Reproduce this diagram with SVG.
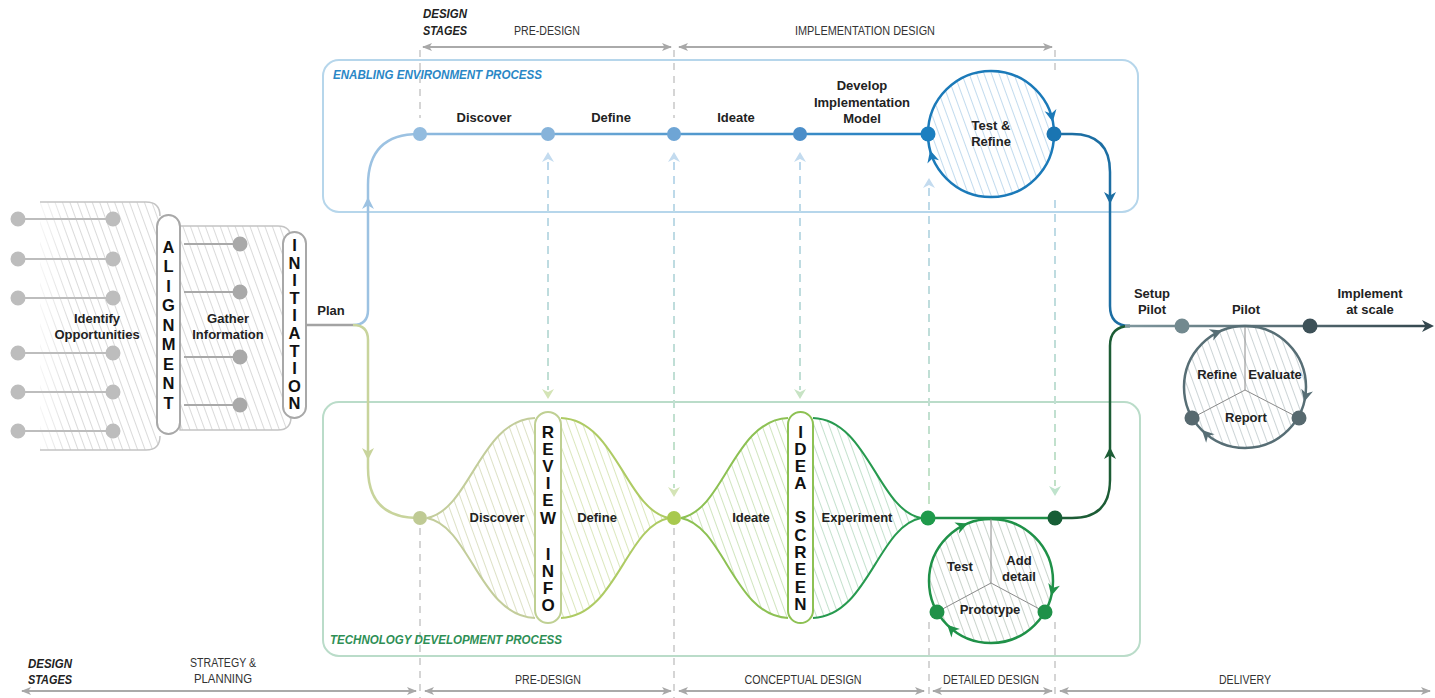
<svg xmlns="http://www.w3.org/2000/svg" width="1435" height="698" viewBox="0 0 1435 698">
<style>
.lbl{font-family:"Liberation Sans",Arial,sans-serif;font-weight:bold;font-size:13px;fill:#222;text-anchor:middle}
.big{font-family:"Liberation Sans",Arial,sans-serif;font-weight:bold;font-size:17px;fill:#111;text-anchor:middle}
.let{font-family:"Liberation Sans",Arial,sans-serif;font-weight:bold;font-size:16.5px;fill:#111;text-anchor:middle}
.stg{font-family:"Liberation Sans",Arial,sans-serif;font-size:12px;fill:#333;text-anchor:middle}
.ds{font-family:"Liberation Sans",Arial,sans-serif;font-size:13px;font-weight:bold;font-style:italic;fill:#222}
.proc{font-family:"Liberation Sans",Arial,sans-serif;font-size:12px;font-weight:bold;font-style:italic}
.sep{stroke:#c8c8c8;stroke-width:1.5;stroke-dasharray:7 6;fill:none}
.sarr{stroke:#aaa;stroke-width:1.8;fill:none;marker-start:url(#sa);marker-end:url(#sa)}
.dash{stroke:url(#dg);stroke-width:2;stroke-dasharray:8 6;fill:none}
.flow{fill:none;stroke-width:2.5}
.pill{fill:#fff;stroke-width:2}
.spoke{stroke:#8a8a8a;stroke-width:1;fill:none}
</style>
<defs>
<marker id="sa" viewBox="0 0 10 10" refX="9" refY="5" markerWidth="10" markerHeight="10" markerUnits="userSpaceOnUse" orient="auto-start-reverse"><path d="M0,1 L10,5 L0,9 L2.5,5z" fill="#a8a8a8"/></marker>
<path id="ah" d="M0,0 L-12,-6 L-8.5,0 L-12,6 Z"/>
<path id="dh" d="M0,0 L-10,-6 L-7,0 L-10,6 Z"/>
<pattern id="hGray" width="7" height="7" patternUnits="userSpaceOnUse" patternTransform="rotate(-20)"><line x1="3.5" y1="0" x2="3.5" y2="7" stroke="#dadada" stroke-width="1"/></pattern>
<pattern id="hOl" width="7" height="7" patternUnits="userSpaceOnUse" patternTransform="rotate(-20)"><line x1="3.5" y1="0" x2="3.5" y2="7" stroke="#dde1c6" stroke-width="1"/></pattern>
<pattern id="hYg" width="7" height="7" patternUnits="userSpaceOnUse" patternTransform="rotate(-20)"><line x1="3.5" y1="0" x2="3.5" y2="7" stroke="#dbe7bd" stroke-width="1"/></pattern>
<pattern id="hLg" width="7" height="7" patternUnits="userSpaceOnUse" patternTransform="rotate(-20)"><line x1="3.5" y1="0" x2="3.5" y2="7" stroke="#d0e5bf" stroke-width="1"/></pattern>
<pattern id="hGr" width="7" height="7" patternUnits="userSpaceOnUse" patternTransform="rotate(-20)"><line x1="3.5" y1="0" x2="3.5" y2="7" stroke="#c4e1cd" stroke-width="1"/></pattern>
<pattern id="hGc" width="7" height="7" patternUnits="userSpaceOnUse" patternTransform="rotate(-20)"><line x1="3.5" y1="0" x2="3.5" y2="7" stroke="#cad4cc" stroke-width="1"/></pattern>
<pattern id="hBl" width="7" height="7" patternUnits="userSpaceOnUse" patternTransform="rotate(-20)"><line x1="3.5" y1="0" x2="3.5" y2="7" stroke="#c2dbee" stroke-width="1"/></pattern>
<pattern id="hTl" width="7" height="7" patternUnits="userSpaceOnUse" patternTransform="rotate(-20)"><line x1="3.5" y1="0" x2="3.5" y2="7" stroke="#ccd4d6" stroke-width="1"/></pattern>
<linearGradient id="dg" gradientUnits="userSpaceOnUse" x1="0" y1="150" x2="0" y2="500"><stop offset="0" stop-color="#bcd8ee"/><stop offset="1" stop-color="#c2e2c6"/></linearGradient>
<linearGradient id="tg" gradientUnits="userSpaceOnUse" x1="420" y1="0" x2="928" y2="0"><stop offset="0" stop-color="#8fbadf"/><stop offset="1" stop-color="#1f7dbf"/></linearGradient>
<linearGradient id="pg" gradientUnits="userSpaceOnUse" x1="1125" y1="0" x2="1430" y2="0"><stop offset="0" stop-color="#7e969d"/><stop offset="1" stop-color="#34474e"/></linearGradient>
<linearGradient id="fade" x1="0" y1="0" x2="1" y2="0"><stop offset="0" stop-color="#fff" stop-opacity="1"/><stop offset="1" stop-color="#fff" stop-opacity="0"/></linearGradient>
</defs>
<rect width="1435" height="698" fill="#fff"/>

<!-- stage headers -->
<g id="stages">
<text class="ds" x="423" y="18" textLength="44" lengthAdjust="spacingAndGlyphs">DESIGN</text>
<text class="ds" x="423" y="35" textLength="44" lengthAdjust="spacingAndGlyphs">STAGES</text>
<text class="stg" x="547" y="35" textLength="66" lengthAdjust="spacingAndGlyphs">PRE-DESIGN</text>
<text class="stg" x="865" y="35" textLength="140" lengthAdjust="spacingAndGlyphs">IMPLEMENTATION DESIGN</text>
<line class="sarr" x1="423" y1="47" x2="671" y2="47"/>
<line class="sarr" x1="679" y1="47" x2="1052" y2="47"/>
<text class="ds" x="28" y="668" textLength="44" lengthAdjust="spacingAndGlyphs">DESIGN</text>
<text class="ds" x="28" y="684" textLength="44" lengthAdjust="spacingAndGlyphs">STAGES</text>
<text class="stg" x="223" y="667" textLength="66" lengthAdjust="spacingAndGlyphs">STRATEGY &amp;</text>
<text class="stg" x="223" y="683" textLength="58" lengthAdjust="spacingAndGlyphs">PLANNING</text>
<text class="stg" x="548" y="684" textLength="66" lengthAdjust="spacingAndGlyphs">PRE-DESIGN</text>
<text class="stg" x="803" y="684" textLength="117" lengthAdjust="spacingAndGlyphs">CONCEPTUAL DESIGN</text>
<text class="stg" x="991" y="684" textLength="96" lengthAdjust="spacingAndGlyphs">DETAILED DESIGN</text>
<text class="stg" x="1245" y="684" textLength="52" lengthAdjust="spacingAndGlyphs">DELIVERY</text>
<line class="sarr" x1="22" y1="691" x2="416" y2="691"/>
<line class="sarr" x1="425" y1="691" x2="671" y2="691"/>
<line class="sarr" x1="679" y1="691" x2="924" y2="691"/>
<line class="sarr" x1="933" y1="691" x2="1052" y2="691"/>
<line class="sarr" x1="1060" y1="691" x2="1430" y2="691"/>
<path class="sep" d="M420 50 V118 M674 50 V118 M1055 50 V70 M420 528 V698 M674 528 V698 M929 622 V698 M1055 622 V698"/>
</g>

<!-- process boxes -->
<g id="enabling-box">
<rect x="323" y="60" width="815" height="152" rx="16" fill="none" stroke="#b6d6eb" stroke-width="2"/>
<text class="proc" x="333" y="79" fill="#2a87c6" textLength="209" lengthAdjust="spacingAndGlyphs">ENABLING ENVIRONMENT PROCESS</text>
</g>
<g id="technology-box">
<rect x="323" y="402" width="817" height="254" rx="16" fill="none" stroke="#badcc9" stroke-width="2"/>
<text class="proc" x="330" y="644" fill="#2e8f55" textLength="232" lengthAdjust="spacingAndGlyphs">TECHNOLOGY DEVELOPMENT PROCESS</text>
</g>

<!-- left: identify opportunities -->
<g id="identify">
<path d="M40 202 H146 Q160 202 160 216 V436 Q160 450 146 450 H40 Z" fill="url(#hGray)"/>
<rect x="30" y="200" width="40" height="252" fill="url(#fade)"/>
<path d="M40 202 H146 Q160 202 160 216 M40 450 H146 Q160 450 160 436" fill="none" stroke="#c4c4c4" stroke-width="1.5"/>
<g stroke="#bdbdbd" stroke-width="2" fill="#bdbdbd">
<line x1="18" y1="219" x2="113" y2="219"/><circle cx="18" cy="219" r="6.5"/><circle cx="113" cy="219" r="6.5"/>
<line x1="18" y1="259" x2="113" y2="259"/><circle cx="18" cy="259" r="6.5"/><circle cx="113" cy="259" r="6.5"/>
<line x1="18" y1="298" x2="113" y2="298"/><circle cx="18" cy="298" r="6.5"/><circle cx="113" cy="298" r="6.5"/>
<line x1="18" y1="353" x2="113" y2="353"/><circle cx="18" cy="353" r="6.5"/><circle cx="113" cy="353" r="6.5"/>
<line x1="18" y1="392" x2="113" y2="392"/><circle cx="18" cy="392" r="6.5"/><circle cx="113" cy="392" r="6.5"/>
<line x1="18" y1="431" x2="113" y2="431"/><circle cx="18" cy="431" r="6.5"/><circle cx="113" cy="431" r="6.5"/>
</g>
<text class="lbl" x="97" y="323">Identify</text>
<text class="lbl" x="97" y="339">Opportunities</text>
</g>

<g id="gather">
<path d="M180 226 H278 Q291 226 291 239 V417 Q291 430 278 430 H180 Z" fill="url(#hGray)" stroke="#c4c4c4" stroke-width="1.5"/>
<g stroke="#a9a9a9" stroke-width="2" fill="#a9a9a9">
<line x1="184" y1="244" x2="240" y2="244"/><circle cx="240" cy="244" r="6.5"/>
<line x1="184" y1="292" x2="240" y2="292"/><circle cx="240" cy="292" r="6.5"/>
<line x1="184" y1="357" x2="240" y2="357"/><circle cx="240" cy="357" r="6.5"/>
<line x1="184" y1="405" x2="240" y2="405"/><circle cx="240" cy="405" r="6.5"/>
</g>
<text class="lbl" x="228" y="323">Gather</text>
<text class="lbl" x="228" y="339">Information</text>
</g>

<g id="alignment">
<rect class="pill" x="157" y="215" width="23" height="219" rx="11.5" stroke="#a8a8a8"/>
<text class="let" x="168.5" y="253">A</text><text class="let" x="168.5" y="272">L</text><text class="let" x="168.5" y="292">I</text>
<text class="let" x="168.5" y="311">G</text><text class="let" x="168.5" y="331">N</text><text class="let" x="168.5" y="350">M</text>
<text class="let" x="168.5" y="370">E</text><text class="let" x="168.5" y="389">N</text><text class="let" x="168.5" y="409">T</text>
</g>
<g id="initiation">
<rect class="pill" x="283" y="232" width="23" height="186" rx="11.5" stroke="#a8a8a8"/>
<text class="let" x="294.5" y="251">I</text><text class="let" x="294.5" y="269">N</text><text class="let" x="294.5" y="286">I</text>
<text class="let" x="294.5" y="304">T</text><text class="let" x="294.5" y="321">I</text><text class="let" x="294.5" y="339">A</text>
<text class="let" x="294.5" y="357">T</text><text class="let" x="294.5" y="374">I</text><text class="let" x="294.5" y="392">O</text>
<text class="let" x="294.5" y="409">N</text>
</g>
<g id="plan"><text class="lbl" x="331" y="315">Plan</text></g>

<!-- lenses -->
<g id="review-info">
<path d="M427 518 C470 510 480 420 535 418 V618 C480 616 470 526 427 518 Z" fill="url(#hOl)"/>
<path d="M561 418 C616 420 626 510 669 518 C626 526 616 616 561 618 Z" fill="url(#hYg)"/>
<path d="M427 518 C470 510 480 420 535 418 M427 518 C470 526 480 616 535 618" fill="none" stroke="#c3cd9b" stroke-width="2"/>
<path d="M561 418 C616 420 626 510 669 518 M561 618 C616 616 626 526 669 518" fill="none" stroke="#aecb64" stroke-width="2"/>
<rect class="pill" x="535" y="412" width="26" height="211" rx="13" stroke="#bfd093"/>
<text class="big" x="548" y="438">R</text><text class="big" x="548" y="455">E</text><text class="big" x="548" y="472">V</text>
<text class="big" x="548" y="489">I</text><text class="big" x="548" y="506">E</text><text class="big" x="548" y="524">W</text>
<text class="big" x="548" y="560">I</text><text class="big" x="548" y="577">N</text><text class="big" x="548" y="594">F</text>
<text class="big" x="548" y="611">O</text>
<text class="lbl" x="497" y="522">Discover</text>
<text class="lbl" x="597" y="522">Define</text>
</g>
<g id="idea-screen">
<path d="M681 518 C724 510 734 420 788 418 V618 C734 616 724 526 681 518 Z" fill="url(#hLg)"/>
<path d="M813 418 C868 420 878 510 921 518 C878 526 868 616 813 618 Z" fill="url(#hGr)"/>
<path d="M681 518 C724 510 734 420 788 418 M681 518 C724 526 734 616 788 618" fill="none" stroke="#8dc153" stroke-width="2"/>
<path d="M813 418 C868 420 878 510 921 518 M813 618 C868 616 878 526 921 518" fill="none" stroke="#279a4f" stroke-width="2"/>
<rect class="pill" x="788" y="412" width="25" height="211" rx="12.5" stroke="#8dc153"/>
<text class="big" x="800.5" y="438">I</text><text class="big" x="800.5" y="455">D</text><text class="big" x="800.5" y="472">E</text>
<text class="big" x="800.5" y="489">A</text>
<text class="big" x="800.5" y="523">S</text><text class="big" x="800.5" y="541">C</text><text class="big" x="800.5" y="558">R</text>
<text class="big" x="800.5" y="575">E</text><text class="big" x="800.5" y="593">E</text><text class="big" x="800.5" y="610">N</text>
<text class="lbl" x="751" y="522">Ideate</text>
<text class="lbl" x="857" y="522">Experiment</text>
</g>

<!-- connectors -->
<g id="connectors">
<path class="flow" d="M306 325 H353" stroke="#a3a3a3"/>
<path class="flow" d="M353 325 Q368 325 368 310 V185 Q368 134 419 134" stroke="#9cc2e2"/>
<path class="flow" d="M353 325 Q368 325 368 340 V468 Q368 518 419 518" stroke="#c8d49c"/>
<use href="#ah" transform="translate(368,197) rotate(-90)" fill="#9cc2e2"/>
<use href="#ah" transform="translate(368,460) rotate(90)" fill="#c8d49c"/>
<path class="flow" d="M420 134 H928" stroke="url(#tg)"/>
<path class="flow" d="M1054 134 H1072 Q1110 134 1110 172 V306 Q1110 326 1130 326" stroke="#1c6ea3"/>
<use href="#ah" transform="translate(1110,204) rotate(90)" fill="#1c6ea3"/>
<path class="flow" d="M928 518 H1055" stroke="#1f8e47"/>
<path class="flow" d="M1055 518 H1072 Q1110 518 1110 480 V346 Q1110 326 1130 326" stroke="#1c5c35"/>
<use href="#ah" transform="translate(1110,447) rotate(-90)" fill="#1c5c35"/>
<path class="flow" d="M1125 326 H1426" stroke="url(#pg)"/>
<use href="#ah" transform="translate(1434,326)" fill="#34474e"/>
<!-- dashed cross-links -->
<path class="dash" d="M548 162 V390 M674 162 V488 M800 162 V390 M929 188 V510 M1055 200 V486"/>
<use href="#dh" transform="translate(548,152) rotate(-90)" fill="#c3dbef"/>
<use href="#dh" transform="translate(674,152) rotate(-90)" fill="#c3dbef"/>
<use href="#dh" transform="translate(800,152) rotate(-90)" fill="#c3dbef"/>
<use href="#dh" transform="translate(929,178) rotate(-90)" fill="#c3dbef"/>
<use href="#dh" transform="translate(548,399) rotate(90)" fill="#d4e4b6"/>
<use href="#dh" transform="translate(674,497) rotate(90)" fill="#d4e4b6"/>
<use href="#dh" transform="translate(800,399) rotate(90)" fill="#c7e3c4"/>
<use href="#dh" transform="translate(1055,496) rotate(90)" fill="#bfe3cc"/>
</g>

<!-- test & refine circle -->
<g id="test-refine">
<circle cx="991" cy="134" r="63" fill="url(#hBl)" stroke="#1b7ab9" stroke-width="2.5"/>
<use href="#ah" transform="translate(1052.8,122) rotate(79)" fill="#1b7ab9"/>
<use href="#ah" transform="translate(930.1,150.3) rotate(255)" fill="#1b7ab9"/>
<text class="lbl" x="991" y="130">Test &amp;</text>
<text class="lbl" x="991" y="146">Refine</text>
</g>

<!-- prototype cycle -->
<g id="prototype-cycle">
<circle cx="991" cy="581" r="62" fill="url(#hGc)" stroke="#1f9148" stroke-width="2.5"/>
<path class="spoke" d="M991 583 V519 M991 583 L937 612 M991 583 L1045 612"/>
<use href="#ah" transform="translate(967.8,523.5) rotate(-22)" fill="#1f9148"/>
<use href="#ah" transform="translate(1051.2,596) rotate(104)" fill="#1f9148"/>
<use href="#ah" transform="translate(947.2,624.8) rotate(225)" fill="#1f9148"/>
<text class="lbl" x="960" y="571">Test</text>
<text class="lbl" x="1019" y="565">Add</text>
<text class="lbl" x="1019" y="581">detail</text>
<text class="lbl" x="990" y="614">Prototype</text>
</g>

<!-- pilot cycle -->
<g id="pilot-cycle">
<circle cx="1245" cy="387" r="61" fill="url(#hTl)" stroke="#576e75" stroke-width="2.5"/>
<path class="spoke" d="M1245 390 V327 M1245 390 L1192 418 M1245 390 L1299 418"/>
<use href="#ah" transform="translate(1222.1,330.4) rotate(-22)" fill="#576e75"/>
<use href="#ah" transform="translate(1304.2,401.8) rotate(104)" fill="#576e75"/>
<use href="#ah" transform="translate(1201.9,430.1) rotate(225)" fill="#576e75"/>
<text class="lbl" x="1217" y="379">Refine</text>
<text class="lbl" x="1275" y="379">Evaluate</text>
<text class="lbl" x="1246" y="422">Report</text>
</g>

<!-- nodes -->
<g id="node-discover-top"><circle cx="420" cy="134" r="7" fill="#93bcdf"/><text class="lbl" x="484" y="122">Discover</text></g>
<g id="node-define-top"><circle cx="548" cy="134" r="7" fill="#86b3da"/><text class="lbl" x="611" y="122">Define</text></g>
<g id="node-ideate-top"><circle cx="674" cy="134" r="7" fill="#6ea5d5"/><text class="lbl" x="736" y="122">Ideate</text></g>
<g id="node-develop"><circle cx="800" cy="134" r="7" fill="#4b8ec9"/><text class="lbl" x="862" y="90">Develop</text><text class="lbl" x="862" y="107">Implementation</text><text class="lbl" x="862" y="123">Model</text></g>
<g id="node-test-in"><circle cx="928" cy="134" r="7.5" fill="#1c7fc0"/></g>
<g id="node-test-out"><circle cx="1054" cy="134" r="7.5" fill="#1a75b2"/></g>
<g id="node-b1"><circle cx="420" cy="518" r="7" fill="#bfca94"/></g>
<g id="node-b2"><circle cx="674" cy="518" r="7" fill="#a8c94e"/></g>
<g id="node-b3"><circle cx="928" cy="518" r="7.5" fill="#1f9a4b"/></g>
<g id="node-b4"><circle cx="1055" cy="518" r="7.5" fill="#175e36"/></g>
<g id="node-proto-l"><circle cx="937" cy="612" r="7.5" fill="#1f9148"/></g>
<g id="node-proto-r"><circle cx="1045" cy="612" r="7.5" fill="#1f9148"/></g>
<g id="node-setup"><circle cx="1182" cy="326" r="7.5" fill="#72898f"/><text class="lbl" x="1152" y="298">Setup</text><text class="lbl" x="1152" y="314">Pilot</text></g>
<g id="node-pilot"><text class="lbl" x="1246" y="314">Pilot</text></g>
<g id="node-implement"><circle cx="1310" cy="326" r="7.5" fill="#3d5158"/><text class="lbl" x="1370" y="298">Implement</text><text class="lbl" x="1370" y="314">at scale</text></g>
<g id="node-pilot-l"><circle cx="1192" cy="418" r="7.5" fill="#57696f"/></g>
<g id="node-pilot-r"><circle cx="1299" cy="418" r="7.5" fill="#57696f"/></g>
</svg>
